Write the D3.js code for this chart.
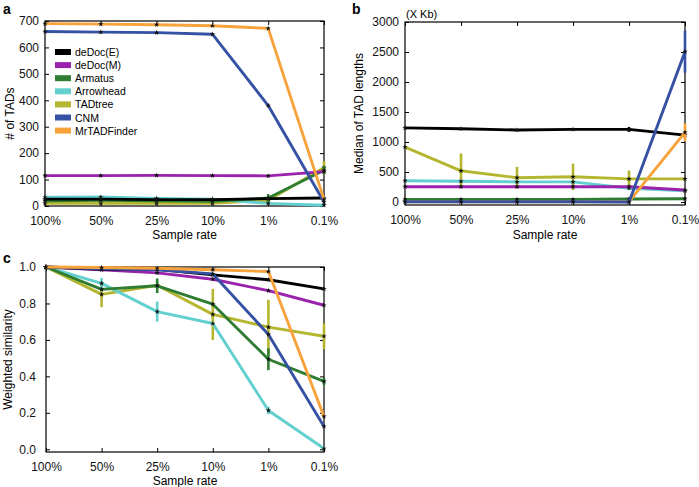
<!DOCTYPE html>
<html><head><meta charset="utf-8">
<script src="https://cdn.jsdelivr.net/npm/d3@7"></script>
<style>body{margin:0;background:#fff}svg{font-family:"Liberation Sans",Arial,sans-serif}</style>
</head><body>
<svg id="chart" width="699" height="487"></svg>
<script>
const sampleRates = ["100%", "50%", "25%", "10%", "1%", "0.1%"];
const methods = ["deDoc(E)", "deDoc(M)", "Armatus", "Arrowhead", "TADtree", "CNM", "MrTADFinder"];
const methodColors = ["#000000", "#9a22ad", "#2f7d32", "#63cfcf", "#b5b62f", "#3451a3", "#f7a23a"];

// Panel a: number of TADs
const tadCounts = [
  [26, 26, 24, 24, 28, 30],
  [115, 115, 116, 115, 114, 130],
  [20, 22, 20, 18, 30, 135],
  [33, 34, 29, 26, 10, 3],
  [10, 10, 10, 10, 22, 145],
  [660, 658, 656, 650, 380, 15],
  [690, 688, 686, 682, 672, 25]
];
const tadCountErr = [
  [0, 0, 0, 0, 0, 0],
  [0, 0, 0, 0, 0, 0],
  [0, 10, 8, 8, 15, 15],
  [0, 0, 0, 0, 0, 0],
  [0, 0, 0, 0, 10, 25],
  [0, 0, 0, 0, 0, 0],
  [0, 0, 0, 0, 0, 0]
];
const tadCountTicks = [0, 100, 200, 300, 400, 500, 600, 700];

// Panel b: median TAD lengths (x Kb)
const tadLengths = [
  [1235, 1220, 1200, 1210, 1210, 1115],
  [255, 255, 255, 255, 255, 200],
  [44, 44, 44, 44, 50, 55],
  [355, 345, 335, 335, 230, 185],
  [915, 520, 405, 420, 385, 385],
  [5, 5, 5, 5, 0, 2505],
  [5, 5, 5, 5, 5, 1160]
];
const tadLengthErr = [
  [0, 0, 0, 0, 40, 0],
  [0, 0, 0, 0, 0, 0],
  [0, 0, 0, 0, 0, 0],
  [0, 0, 0, 0, 0, 0],
  [0, 290, 180, 220, 140, 0],
  [0, 0, 0, 0, 0, 350],
  [0, 0, 0, 0, 0, 150]
];
const tadLengthTicks = [0, 500, 1000, 1500, 2000, 2500, 3000];

// Panel c: weighted similarity
const similarity = [
  [1.0, 0.987, 0.987, 0.957, 0.93, 0.88],
  [1.0, 0.985, 0.968, 0.933, 0.87, 0.79],
  [1.0, 0.877, 0.897, 0.796, 0.494, 0.372],
  [1.0, 0.91, 0.755, 0.69, 0.213, 0.004],
  [1.0, 0.85, 0.9, 0.74, 0.67, 0.62],
  [1.0, 0.99, 0.985, 0.962, 0.63, 0.125],
  [1.0, 0.997, 0.993, 0.985, 0.975, 0.18]
];
const similarityErr = [
  [0, 0, 0, 0, 0, 0],
  [0, 0, 0, 0, 0, 0],
  [0, 0, 0.04, 0, 0.06, 0.02],
  [0, 0.03, 0.055, 0, 0.02, 0],
  [0, 0.07, 0, 0.14, 0.15, 0.07],
  [0, 0, 0, 0, 0, 0],
  [0, 0, 0, 0, 0, 0]
];
const similarityTicks = [0, 0.2, 0.4, 0.6, 0.8, 1.0];

const svg = d3.select("#chart");

function panel(opt) {
  const x = d3.scalePoint().domain(sampleRates).range([opt.x0, opt.x1]);
  const y = d3.scaleLinear().domain(opt.ydom).range([opt.y1, opt.y0]);
  const g = svg.append("g");
  const tl = 4;
  g.append("rect").attr("x", opt.x0).attr("y", opt.y0)
    .attr("width", opt.x1 - opt.x0).attr("height", opt.y1 - opt.y0)
    .attr("fill", "none").attr("stroke", "#000").attr("stroke-width", 1.2);
  const xb = g.append("g").attr("transform", `translate(0,${opt.y1})`)
    .call(d3.axisBottom(x).tickSize(-tl).tickPadding(10));
  const xt = g.append("g").attr("transform", `translate(0,${opt.y0})`)
    .call(d3.axisTop(x).tickSize(-tl).tickFormat(""));
  const yl = g.append("g").attr("transform", `translate(${opt.x0},0)`)
    .call(d3.axisLeft(y).tickValues(opt.ticks).tickSize(-tl).tickPadding(opt.ypad).tickFormat(opt.fmt));
  const yr = g.append("g").attr("transform", `translate(${opt.x1},0)`)
    .call(d3.axisRight(y).tickValues(opt.ticks).tickSize(-tl).tickFormat(""));
  [xb, xt, yl, yr].forEach(a => {
    a.select(".domain").remove();
    a.selectAll("text").attr("font-size", 12).attr("fill", "#111")
      .attr("font-family", "'Liberation Sans',Arial,sans-serif");
    a.selectAll("line").attr("stroke", "#000");
  });
  const line = d3.line().x((d, i) => x(sampleRates[i])).y(d => y(d));
  opt.order.forEach(k => {
    const vals = opt.values[k];
    const errs = opt.errs[k];
    g.append("path").datum(vals).attr("d", line).attr("fill", "none")
      .attr("stroke", methodColors[k]).attr("stroke-width", 2.9)
      .attr("stroke-linejoin", "round");
    vals.forEach((v, i) => {
      if (errs[i] > 0) {
        g.append("line").attr("x1", x(sampleRates[i])).attr("x2", x(sampleRates[i]))
          .attr("y1", y(v - errs[i])).attr("y2", y(v + errs[i]))
          .attr("stroke", methodColors[k]).attr("stroke-width", 2.6);
      }
    });
    g.selectAll(null).data(vals).enter().append("path")
      .attr("d", d3.symbol().type(d3.symbolStar).size(9))
      .attr("transform", (d, i) => `translate(${x(sampleRates[i])},${y(d)})`)
      .attr("fill", "#111");
  });
  g.append("text").attr("x", (opt.x0 + opt.x1) / 2).attr("y", opt.xlabY)
    .attr("text-anchor", "middle").attr("font-size", 12).text("Sample rate");
  g.append("text").attr("transform", `translate(${opt.ylabX},${(opt.y0 + opt.y1) / 2}) rotate(-90)`)
    .attr("text-anchor", "middle").attr("font-size", 12).text(opt.ylab);
  g.append("text").attr("x", opt.tagX).attr("y", opt.tagY)
    .attr("font-size", 14).attr("font-weight", "bold").text(opt.tag);
  return g;
}

const order = [4, 3, 2, 1, 0, 5, 6];

const ga = panel({x0: 45, x1: 324, y0: 21, y1: 206, ydom: [0, 700], ticks: tadCountTicks,
  fmt: d3.format("d"), ypad: 6, values: tadCounts, errs: tadCountErr, order: order,
  xlabY: 239, ylabX: 14, ylab: "# of TADs", tag: "a", tagX: 3, tagY: 14});

const gb = panel({x0: 405, x1: 685, y0: 22, y1: 205, ydom: [-50, 3000], ticks: tadLengthTicks,
  fmt: d3.format("d"), ypad: 6, values: tadLengths, errs: tadLengthErr, order: [4, 3, 1, 2, 0, 6, 5],
  xlabY: 239, ylabX: 363, ylab: "Median of TAD lengths", tag: "b", tagX: 352, tagY: 14});
gb.append("text").attr("x", 406).attr("y", 18).attr("font-size", 11).text("(X Kb)");

panel({x0: 46, x1: 324, y0: 267, y1: 452, ydom: [-0.015, 1], ticks: similarityTicks,
  fmt: d3.format(".1f"), ypad: 10, values: similarity, errs: similarityErr, order: order,
  xlabY: 485, ylabX: 12, ylab: "Weighted similarity", tag: "c", tagX: 3, tagY: 263});

const leg = ga.append("g");
methods.forEach((m, i) => {
  const yy = 52 + i * 13.1;
  leg.append("rect").attr("x", 55).attr("y", yy - 3).attr("width", 16).attr("height", 6)
    .attr("fill", methodColors[i]);
  leg.append("text").attr("x", 75).attr("y", yy + 4).attr("font-size", 10.5).text(m);
});
</script>
</body></html>
